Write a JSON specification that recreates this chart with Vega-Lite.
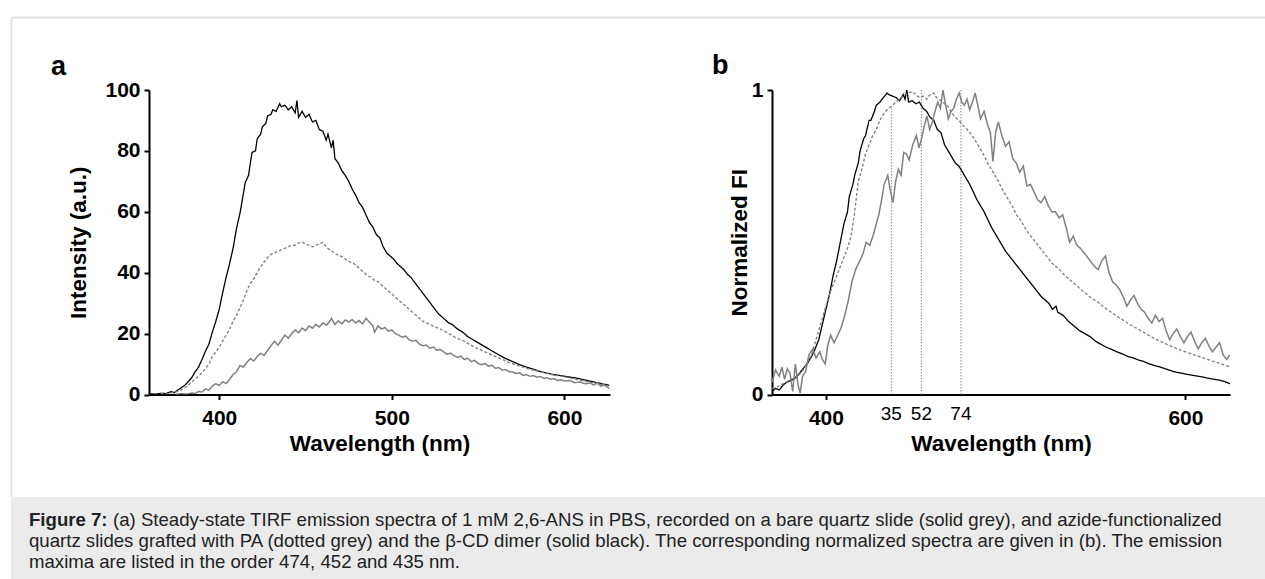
{
  "$schema": "https://vega.github.io/schema/vega-lite/v6.json",
  "background": "white",
  "padding": {"left": 8, "top": 14, "right": 0, "bottom": 0},
  "config": {
    "font": "Liberation Sans",
    "view": {"stroke": null},
    "axis": {
      "grid": false,
      "domainColor": "#000000", "domainWidth": 2,
      "tickColor": "#000000", "tickWidth": 2, "tickSize": 5,
      "labelFont": "Liberation Sans", "labelFontSize": 21, "labelFontWeight": "bold", "labelColor": "#000000", "labelPadding": 4,
      "labelFlush": false, "labelOverlap": false,
      "titleFont": "Liberation Sans", "titleFontSize": 22.5, "titleFontWeight": "bold", "titleColor": "#000000"
    },
    "title": {"font": "Liberation Sans", "fontSize": 27, "fontWeight": "bold", "color": "#000000", "anchor": "start", "frame": "group"}
  },
  "datasets": {
    "a": [
      {"s":"dimer","wl":360,"v":0.2},{"s":"dimer","wl":363,"v":0.1},{"s":"dimer","wl":366,"v":0.4},{"s":"dimer","wl":369,"v":0.3},{"s":"dimer","wl":372,"v":0.9},{"s":"dimer","wl":374,"v":0.6},{"s":"dimer","wl":376,"v":1.5},{"s":"dimer","wl":378,"v":2.2},{"s":"dimer","wl":380,"v":3.0},{"s":"dimer","wl":382,"v":4.2},{"s":"dimer","wl":384,"v":5.5},{"s":"dimer","wl":386,"v":7.4},{"s":"dimer","wl":388,"v":9.0},{"s":"dimer","wl":390,"v":11.5},{"s":"dimer","wl":392,"v":14.2},{"s":"dimer","wl":394,"v":16.5},{"s":"dimer","wl":396,"v":20.5},{"s":"dimer","wl":398,"v":24.0},{"s":"dimer","wl":400,"v":28.0},{"s":"dimer","wl":402,"v":33.5},{"s":"dimer","wl":404,"v":38.5},{"s":"dimer","wl":406,"v":43.0},{"s":"dimer","wl":408,"v":48.0},{"s":"dimer","wl":410,"v":54.5},{"s":"dimer","wl":412,"v":59.5},{"s":"dimer","wl":414,"v":66.0},{"s":"dimer","wl":415,"v":69.5},{"s":"dimer","wl":417,"v":72.0},{"s":"dimer","wl":418,"v":76.0},{"s":"dimer","wl":419,"v":79.5},{"s":"dimer","wl":421,"v":80.0},{"s":"dimer","wl":422,"v":84.0},{"s":"dimer","wl":424,"v":85.5},{"s":"dimer","wl":425,"v":88.0},{"s":"dimer","wl":427,"v":89.0},{"s":"dimer","wl":428,"v":91.5},{"s":"dimer","wl":430,"v":92.0},{"s":"dimer","wl":431,"v":93.5},{"s":"dimer","wl":433,"v":93.0},{"s":"dimer","wl":435,"v":95.5},{"s":"dimer","wl":436,"v":94.5},{"s":"dimer","wl":438,"v":95.0},{"s":"dimer","wl":440,"v":93.5},{"s":"dimer","wl":442,"v":94.5},{"s":"dimer","wl":444,"v":92.5},{"s":"dimer","wl":445,"v":96.5},{"s":"dimer","wl":446,"v":91.0},{"s":"dimer","wl":448,"v":93.0},{"s":"dimer","wl":450,"v":91.0},{"s":"dimer","wl":452,"v":92.0},{"s":"dimer","wl":454,"v":89.5},{"s":"dimer","wl":456,"v":90.0},{"s":"dimer","wl":458,"v":87.0},{"s":"dimer","wl":460,"v":86.5},{"s":"dimer","wl":462,"v":83.5},{"s":"dimer","wl":463,"v":85.5},{"s":"dimer","wl":465,"v":81.0},{"s":"dimer","wl":466,"v":83.5},{"s":"dimer","wl":467,"v":77.5},{"s":"dimer","wl":469,"v":76.0},{"s":"dimer","wl":471,"v":73.5},{"s":"dimer","wl":473,"v":72.0},{"s":"dimer","wl":475,"v":70.0},{"s":"dimer","wl":477,"v":67.5},{"s":"dimer","wl":479,"v":65.5},{"s":"dimer","wl":481,"v":63.0},{"s":"dimer","wl":483,"v":61.5},{"s":"dimer","wl":485,"v":59.0},{"s":"dimer","wl":487,"v":56.5},{"s":"dimer","wl":489,"v":55.0},{"s":"dimer","wl":491,"v":52.5},{"s":"dimer","wl":493,"v":51.5},{"s":"dimer","wl":495,"v":48.5},{"s":"dimer","wl":497,"v":46.5},{"s":"dimer","wl":499,"v":45.5},{"s":"dimer","wl":501,"v":44.5},{"s":"dimer","wl":503,"v":43.0},{"s":"dimer","wl":505,"v":42.0},{"s":"dimer","wl":507,"v":41.0},{"s":"dimer","wl":509,"v":39.5},{"s":"dimer","wl":511,"v":38.5},{"s":"dimer","wl":513,"v":37.0},{"s":"dimer","wl":515,"v":35.5},{"s":"dimer","wl":517,"v":34.0},{"s":"dimer","wl":519,"v":32.5},{"s":"dimer","wl":521,"v":31.0},{"s":"dimer","wl":523,"v":29.5},{"s":"dimer","wl":525,"v":28.0},{"s":"dimer","wl":527,"v":26.5},{"s":"dimer","wl":529,"v":25.5},{"s":"dimer","wl":531,"v":24.5},{"s":"dimer","wl":533,"v":23.5},{"s":"dimer","wl":535,"v":23.0},{"s":"dimer","wl":538,"v":21.5},{"s":"dimer","wl":541,"v":20.5},{"s":"dimer","wl":544,"v":19.0},{"s":"dimer","wl":547,"v":18.0},{"s":"dimer","wl":550,"v":17.0},{"s":"dimer","wl":553,"v":16.0},{"s":"dimer","wl":556,"v":15.0},{"s":"dimer","wl":559,"v":14.0},{"s":"dimer","wl":562,"v":13.0},{"s":"dimer","wl":566,"v":11.8},{"s":"dimer","wl":570,"v":10.8},{"s":"dimer","wl":574,"v":9.8},{"s":"dimer","wl":578,"v":9.0},{"s":"dimer","wl":582,"v":8.3},{"s":"dimer","wl":586,"v":7.5},{"s":"dimer","wl":590,"v":7.0},{"s":"dimer","wl":594,"v":6.5},{"s":"dimer","wl":598,"v":6.2},{"s":"dimer","wl":602,"v":5.8},{"s":"dimer","wl":606,"v":5.5},{"s":"dimer","wl":610,"v":5.0},{"s":"dimer","wl":614,"v":4.5},{"s":"dimer","wl":618,"v":4.0},{"s":"dimer","wl":622,"v":3.5},{"s":"dimer","wl":626,"v":3.0},

      {"s":"PA","wl":366,"v":0.2},{"s":"PA","wl":370,"v":0.3},{"s":"PA","wl":373,"v":0.6},{"s":"PA","wl":376,"v":1.0},{"s":"PA","wl":379,"v":1.8},{"s":"PA","wl":382,"v":3.0},{"s":"PA","wl":385,"v":4.5},{"s":"PA","wl":388,"v":6.0},{"s":"PA","wl":391,"v":7.8},{"s":"PA","wl":394,"v":10.0},{"s":"PA","wl":396,"v":12.5},{"s":"PA","wl":398,"v":14.0},{"s":"PA","wl":400,"v":15.5},{"s":"PA","wl":402,"v":17.5},{"s":"PA","wl":404,"v":19.5},{"s":"PA","wl":406,"v":21.5},{"s":"PA","wl":408,"v":24.0},{"s":"PA","wl":410,"v":26.0},{"s":"PA","wl":412,"v":28.5},{"s":"PA","wl":414,"v":31.0},{"s":"PA","wl":416,"v":34.0},{"s":"PA","wl":418,"v":36.5},{"s":"PA","wl":420,"v":38.0},{"s":"PA","wl":422,"v":40.0},{"s":"PA","wl":424,"v":42.0},{"s":"PA","wl":426,"v":43.5},{"s":"PA","wl":428,"v":45.0},{"s":"PA","wl":430,"v":46.0},{"s":"PA","wl":432,"v":46.5},{"s":"PA","wl":434,"v":47.0},{"s":"PA","wl":436,"v":47.5},{"s":"PA","wl":438,"v":48.0},{"s":"PA","wl":440,"v":48.5},{"s":"PA","wl":442,"v":49.0},{"s":"PA","wl":444,"v":49.0},{"s":"PA","wl":446,"v":49.8},{"s":"PA","wl":448,"v":50.0},{"s":"PA","wl":450,"v":49.5},{"s":"PA","wl":452,"v":49.0},{"s":"PA","wl":454,"v":48.5},{"s":"PA","wl":456,"v":49.0},{"s":"PA","wl":458,"v":49.5},{"s":"PA","wl":460,"v":50.0},{"s":"PA","wl":462,"v":48.5},{"s":"PA","wl":464,"v":47.5},{"s":"PA","wl":466,"v":46.8},{"s":"PA","wl":468,"v":46.0},{"s":"PA","wl":470,"v":45.5},{"s":"PA","wl":472,"v":45.0},{"s":"PA","wl":474,"v":44.0},{"s":"PA","wl":476,"v":43.5},{"s":"PA","wl":478,"v":43.0},{"s":"PA","wl":480,"v":42.0},{"s":"PA","wl":482,"v":41.0},{"s":"PA","wl":484,"v":40.0},{"s":"PA","wl":486,"v":39.0},{"s":"PA","wl":488,"v":38.5},{"s":"PA","wl":490,"v":37.5},{"s":"PA","wl":492,"v":37.0},{"s":"PA","wl":494,"v":36.0},{"s":"PA","wl":496,"v":35.0},{"s":"PA","wl":498,"v":34.0},{"s":"PA","wl":500,"v":33.0},{"s":"PA","wl":502,"v":32.0},{"s":"PA","wl":504,"v":31.0},{"s":"PA","wl":506,"v":30.0},{"s":"PA","wl":508,"v":29.0},{"s":"PA","wl":510,"v":28.0},{"s":"PA","wl":512,"v":27.0},{"s":"PA","wl":514,"v":26.0},{"s":"PA","wl":516,"v":25.0},{"s":"PA","wl":518,"v":24.0},{"s":"PA","wl":520,"v":23.5},{"s":"PA","wl":522,"v":23.0},{"s":"PA","wl":524,"v":22.5},{"s":"PA","wl":526,"v":22.0},{"s":"PA","wl":528,"v":21.5},{"s":"PA","wl":530,"v":21.0},{"s":"PA","wl":533,"v":20.0},{"s":"PA","wl":536,"v":19.0},{"s":"PA","wl":539,"v":18.2},{"s":"PA","wl":542,"v":17.5},{"s":"PA","wl":545,"v":16.5},{"s":"PA","wl":548,"v":15.5},{"s":"PA","wl":551,"v":14.8},{"s":"PA","wl":554,"v":14.0},{"s":"PA","wl":557,"v":13.2},{"s":"PA","wl":560,"v":12.5},{"s":"PA","wl":564,"v":11.5},{"s":"PA","wl":568,"v":10.5},{"s":"PA","wl":572,"v":9.7},{"s":"PA","wl":576,"v":9.0},{"s":"PA","wl":580,"v":8.3},{"s":"PA","wl":585,"v":7.6},{"s":"PA","wl":590,"v":6.9},{"s":"PA","wl":595,"v":6.3},{"s":"PA","wl":600,"v":5.8},{"s":"PA","wl":605,"v":5.2},{"s":"PA","wl":610,"v":4.6},{"s":"PA","wl":615,"v":4.0},{"s":"PA","wl":620,"v":3.4},{"s":"PA","wl":626,"v":2.6},

      {"s":"bare","wl":375,"v":0.0},{"s":"bare","wl":378,"v":0.3},{"s":"bare","wl":381,"v":0.1},{"s":"bare","wl":384,"v":0.5},{"s":"bare","wl":386,"v":0.3},{"s":"bare","wl":388,"v":1.0},{"s":"bare","wl":390,"v":0.8},{"s":"bare","wl":392,"v":1.8},{"s":"bare","wl":394,"v":1.4},{"s":"bare","wl":396,"v":2.8},{"s":"bare","wl":398,"v":3.5},{"s":"bare","wl":400,"v":3.0},{"s":"bare","wl":402,"v":4.2},{"s":"bare","wl":404,"v":3.6},{"s":"bare","wl":406,"v":5.0},{"s":"bare","wl":408,"v":6.5},{"s":"bare","wl":410,"v":7.5},{"s":"bare","wl":412,"v":9.5},{"s":"bare","wl":414,"v":9.0},{"s":"bare","wl":416,"v":10.5},{"s":"bare","wl":418,"v":11.8},{"s":"bare","wl":420,"v":11.0},{"s":"bare","wl":422,"v":12.5},{"s":"bare","wl":424,"v":13.5},{"s":"bare","wl":426,"v":12.8},{"s":"bare","wl":428,"v":14.5},{"s":"bare","wl":430,"v":16.0},{"s":"bare","wl":432,"v":17.5},{"s":"bare","wl":434,"v":16.2},{"s":"bare","wl":436,"v":17.8},{"s":"bare","wl":438,"v":19.5},{"s":"bare","wl":440,"v":18.5},{"s":"bare","wl":442,"v":20.0},{"s":"bare","wl":444,"v":21.2},{"s":"bare","wl":446,"v":20.3},{"s":"bare","wl":448,"v":21.8},{"s":"bare","wl":450,"v":21.0},{"s":"bare","wl":452,"v":22.5},{"s":"bare","wl":454,"v":21.8},{"s":"bare","wl":456,"v":23.0},{"s":"bare","wl":458,"v":22.2},{"s":"bare","wl":460,"v":23.5},{"s":"bare","wl":462,"v":22.8},{"s":"bare","wl":464,"v":24.0},{"s":"bare","wl":465,"v":25.0},{"s":"bare","wl":467,"v":23.0},{"s":"bare","wl":469,"v":24.2},{"s":"bare","wl":471,"v":23.2},{"s":"bare","wl":473,"v":24.5},{"s":"bare","wl":475,"v":23.8},{"s":"bare","wl":477,"v":24.6},{"s":"bare","wl":479,"v":23.5},{"s":"bare","wl":481,"v":24.3},{"s":"bare","wl":483,"v":23.2},{"s":"bare","wl":485,"v":25.0},{"s":"bare","wl":487,"v":23.8},{"s":"bare","wl":489,"v":22.5},{"s":"bare","wl":490,"v":20.5},{"s":"bare","wl":492,"v":22.5},{"s":"bare","wl":494,"v":21.5},{"s":"bare","wl":496,"v":22.0},{"s":"bare","wl":498,"v":20.8},{"s":"bare","wl":500,"v":21.2},{"s":"bare","wl":502,"v":20.0},{"s":"bare","wl":504,"v":19.5},{"s":"bare","wl":506,"v":18.8},{"s":"bare","wl":508,"v":19.2},{"s":"bare","wl":510,"v":18.0},{"s":"bare","wl":512,"v":17.5},{"s":"bare","wl":514,"v":17.8},{"s":"bare","wl":516,"v":16.5},{"s":"bare","wl":518,"v":16.0},{"s":"bare","wl":520,"v":16.2},{"s":"bare","wl":522,"v":15.2},{"s":"bare","wl":524,"v":15.6},{"s":"bare","wl":526,"v":14.5},{"s":"bare","wl":528,"v":14.8},{"s":"bare","wl":530,"v":14.0},{"s":"bare","wl":532,"v":13.2},{"s":"bare","wl":534,"v":13.6},{"s":"bare","wl":536,"v":12.8},{"s":"bare","wl":538,"v":12.2},{"s":"bare","wl":540,"v":12.6},{"s":"bare","wl":542,"v":11.5},{"s":"bare","wl":544,"v":11.9},{"s":"bare","wl":546,"v":10.8},{"s":"bare","wl":548,"v":11.2},{"s":"bare","wl":550,"v":10.2},{"s":"bare","wl":552,"v":9.8},{"s":"bare","wl":554,"v":10.2},{"s":"bare","wl":556,"v":9.3},{"s":"bare","wl":558,"v":9.6},{"s":"bare","wl":560,"v":8.6},{"s":"bare","wl":562,"v":8.8},{"s":"bare","wl":564,"v":8.0},{"s":"bare","wl":566,"v":8.2},{"s":"bare","wl":568,"v":7.5},{"s":"bare","wl":570,"v":7.4},{"s":"bare","wl":572,"v":6.9},{"s":"bare","wl":574,"v":7.1},{"s":"bare","wl":576,"v":6.3},{"s":"bare","wl":578,"v":6.5},{"s":"bare","wl":580,"v":6.0},{"s":"bare","wl":582,"v":6.2},{"s":"bare","wl":584,"v":5.7},{"s":"bare","wl":586,"v":5.9},{"s":"bare","wl":588,"v":5.3},{"s":"bare","wl":590,"v":5.5},{"s":"bare","wl":592,"v":5.0},{"s":"bare","wl":594,"v":5.2},{"s":"bare","wl":596,"v":4.6},{"s":"bare","wl":598,"v":4.9},{"s":"bare","wl":600,"v":4.4},{"s":"bare","wl":603,"v":4.6},{"s":"bare","wl":606,"v":3.9},{"s":"bare","wl":609,"v":4.1},{"s":"bare","wl":612,"v":3.5},{"s":"bare","wl":615,"v":3.8},{"s":"bare","wl":617,"v":3.1},{"s":"bare","wl":619,"v":3.9},{"s":"bare","wl":621,"v":2.7},{"s":"bare","wl":623,"v":3.2},{"s":"bare","wl":626,"v":2.0}
    ],
    "b": [
      {"s":"dimer","wl":370,"v":0.01},{"s":"dimer","wl":372,"v":0.02},{"s":"dimer","wl":374,"v":0.015},{"s":"dimer","wl":376,"v":0.03},{"s":"dimer","wl":378,"v":0.04},{"s":"dimer","wl":380,"v":0.045},{"s":"dimer","wl":382,"v":0.05},{"s":"dimer","wl":384,"v":0.06},{"s":"dimer","wl":386,"v":0.075},{"s":"dimer","wl":388,"v":0.09},{"s":"dimer","wl":390,"v":0.105},{"s":"dimer","wl":392,"v":0.125},{"s":"dimer","wl":394,"v":0.15},{"s":"dimer","wl":396,"v":0.18},{"s":"dimer","wl":398,"v":0.23},{"s":"dimer","wl":400,"v":0.28},{"s":"dimer","wl":402,"v":0.33},{"s":"dimer","wl":404,"v":0.39},{"s":"dimer","wl":406,"v":0.44},{"s":"dimer","wl":408,"v":0.5},{"s":"dimer","wl":410,"v":0.56},{"s":"dimer","wl":412,"v":0.6},{"s":"dimer","wl":413,"v":0.65},{"s":"dimer","wl":415,"v":0.69},{"s":"dimer","wl":416,"v":0.72},{"s":"dimer","wl":418,"v":0.76},{"s":"dimer","wl":419,"v":0.8},{"s":"dimer","wl":421,"v":0.84},{"s":"dimer","wl":422,"v":0.85},{"s":"dimer","wl":424,"v":0.9},{"s":"dimer","wl":425,"v":0.9},{"s":"dimer","wl":427,"v":0.93},{"s":"dimer","wl":428,"v":0.95},{"s":"dimer","wl":430,"v":0.96},{"s":"dimer","wl":432,"v":0.975},{"s":"dimer","wl":434,"v":0.99},{"s":"dimer","wl":435,"v":0.985},{"s":"dimer","wl":437,"v":0.98},{"s":"dimer","wl":439,"v":0.975},{"s":"dimer","wl":441,"v":0.965},{"s":"dimer","wl":443,"v":0.985},{"s":"dimer","wl":444,"v":0.97},{"s":"dimer","wl":445,"v":1.0},{"s":"dimer","wl":446,"v":0.96},{"s":"dimer","wl":448,"v":0.965},{"s":"dimer","wl":450,"v":0.955},{"s":"dimer","wl":452,"v":0.96},{"s":"dimer","wl":454,"v":0.94},{"s":"dimer","wl":456,"v":0.93},{"s":"dimer","wl":458,"v":0.91},{"s":"dimer","wl":460,"v":0.9},{"s":"dimer","wl":462,"v":0.87},{"s":"dimer","wl":464,"v":0.86},{"s":"dimer","wl":466,"v":0.82},{"s":"dimer","wl":468,"v":0.8},{"s":"dimer","wl":470,"v":0.78},{"s":"dimer","wl":472,"v":0.76},{"s":"dimer","wl":474,"v":0.75},{"s":"dimer","wl":476,"v":0.73},{"s":"dimer","wl":478,"v":0.71},{"s":"dimer","wl":480,"v":0.69},{"s":"dimer","wl":482,"v":0.665},{"s":"dimer","wl":484,"v":0.64},{"s":"dimer","wl":486,"v":0.62},{"s":"dimer","wl":488,"v":0.6},{"s":"dimer","wl":490,"v":0.575},{"s":"dimer","wl":492,"v":0.55},{"s":"dimer","wl":494,"v":0.53},{"s":"dimer","wl":496,"v":0.51},{"s":"dimer","wl":498,"v":0.49},{"s":"dimer","wl":500,"v":0.47},{"s":"dimer","wl":502,"v":0.455},{"s":"dimer","wl":504,"v":0.44},{"s":"dimer","wl":506,"v":0.425},{"s":"dimer","wl":508,"v":0.41},{"s":"dimer","wl":510,"v":0.395},{"s":"dimer","wl":512,"v":0.38},{"s":"dimer","wl":514,"v":0.365},{"s":"dimer","wl":516,"v":0.35},{"s":"dimer","wl":518,"v":0.335},{"s":"dimer","wl":520,"v":0.32},{"s":"dimer","wl":522,"v":0.31},{"s":"dimer","wl":524,"v":0.3},{"s":"dimer","wl":526,"v":0.28},{"s":"dimer","wl":528,"v":0.29},{"s":"dimer","wl":529,"v":0.27},{"s":"dimer","wl":532,"v":0.26},{"s":"dimer","wl":535,"v":0.24},{"s":"dimer","wl":538,"v":0.225},{"s":"dimer","wl":541,"v":0.21},{"s":"dimer","wl":544,"v":0.2},{"s":"dimer","wl":547,"v":0.19},{"s":"dimer","wl":550,"v":0.175},{"s":"dimer","wl":553,"v":0.165},{"s":"dimer","wl":556,"v":0.155},{"s":"dimer","wl":559,"v":0.148},{"s":"dimer","wl":562,"v":0.14},{"s":"dimer","wl":565,"v":0.133},{"s":"dimer","wl":568,"v":0.125},{"s":"dimer","wl":571,"v":0.12},{"s":"dimer","wl":574,"v":0.113},{"s":"dimer","wl":577,"v":0.108},{"s":"dimer","wl":580,"v":0.1},{"s":"dimer","wl":583,"v":0.095},{"s":"dimer","wl":586,"v":0.09},{"s":"dimer","wl":589,"v":0.084},{"s":"dimer","wl":592,"v":0.078},{"s":"dimer","wl":595,"v":0.073},{"s":"dimer","wl":598,"v":0.07},{"s":"dimer","wl":601,"v":0.066},{"s":"dimer","wl":604,"v":0.063},{"s":"dimer","wl":607,"v":0.06},{"s":"dimer","wl":610,"v":0.057},{"s":"dimer","wl":613,"v":0.053},{"s":"dimer","wl":616,"v":0.05},{"s":"dimer","wl":619,"v":0.047},{"s":"dimer","wl":622,"v":0.042},{"s":"dimer","wl":625,"v":0.035},

      {"s":"PA","wl":370,"v":0.02},{"s":"PA","wl":373,"v":0.025},{"s":"PA","wl":376,"v":0.035},{"s":"PA","wl":379,"v":0.045},{"s":"PA","wl":382,"v":0.055},{"s":"PA","wl":385,"v":0.065},{"s":"PA","wl":388,"v":0.085},{"s":"PA","wl":390,"v":0.11},{"s":"PA","wl":392,"v":0.13},{"s":"PA","wl":394,"v":0.17},{"s":"PA","wl":396,"v":0.21},{"s":"PA","wl":398,"v":0.25},{"s":"PA","wl":400,"v":0.29},{"s":"PA","wl":402,"v":0.33},{"s":"PA","wl":404,"v":0.36},{"s":"PA","wl":406,"v":0.39},{"s":"PA","wl":408,"v":0.42},{"s":"PA","wl":410,"v":0.45},{"s":"PA","wl":412,"v":0.48},{"s":"PA","wl":414,"v":0.52},{"s":"PA","wl":416,"v":0.6},{"s":"PA","wl":418,"v":0.7},{"s":"PA","wl":420,"v":0.74},{"s":"PA","wl":422,"v":0.79},{"s":"PA","wl":424,"v":0.82},{"s":"PA","wl":426,"v":0.85},{"s":"PA","wl":428,"v":0.87},{"s":"PA","wl":430,"v":0.9},{"s":"PA","wl":432,"v":0.92},{"s":"PA","wl":434,"v":0.935},{"s":"PA","wl":436,"v":0.945},{"s":"PA","wl":438,"v":0.955},{"s":"PA","wl":440,"v":0.965},{"s":"PA","wl":442,"v":0.975},{"s":"PA","wl":444,"v":0.985},{"s":"PA","wl":446,"v":0.99},{"s":"PA","wl":448,"v":0.995},{"s":"PA","wl":450,"v":0.985},{"s":"PA","wl":452,"v":0.975},{"s":"PA","wl":454,"v":0.98},{"s":"PA","wl":456,"v":0.97},{"s":"PA","wl":458,"v":0.985},{"s":"PA","wl":460,"v":0.99},{"s":"PA","wl":462,"v":0.97},{"s":"PA","wl":464,"v":0.965},{"s":"PA","wl":466,"v":0.955},{"s":"PA","wl":468,"v":0.945},{"s":"PA","wl":470,"v":0.925},{"s":"PA","wl":472,"v":0.91},{"s":"PA","wl":474,"v":0.9},{"s":"PA","wl":476,"v":0.885},{"s":"PA","wl":478,"v":0.875},{"s":"PA","wl":480,"v":0.86},{"s":"PA","wl":482,"v":0.845},{"s":"PA","wl":484,"v":0.825},{"s":"PA","wl":486,"v":0.805},{"s":"PA","wl":488,"v":0.785},{"s":"PA","wl":490,"v":0.76},{"s":"PA","wl":492,"v":0.74},{"s":"PA","wl":494,"v":0.72},{"s":"PA","wl":496,"v":0.7},{"s":"PA","wl":498,"v":0.675},{"s":"PA","wl":500,"v":0.655},{"s":"PA","wl":502,"v":0.635},{"s":"PA","wl":504,"v":0.615},{"s":"PA","wl":506,"v":0.59},{"s":"PA","wl":508,"v":0.575},{"s":"PA","wl":510,"v":0.555},{"s":"PA","wl":512,"v":0.535},{"s":"PA","wl":514,"v":0.52},{"s":"PA","wl":516,"v":0.505},{"s":"PA","wl":518,"v":0.49},{"s":"PA","wl":520,"v":0.475},{"s":"PA","wl":522,"v":0.46},{"s":"PA","wl":524,"v":0.445},{"s":"PA","wl":526,"v":0.43},{"s":"PA","wl":528,"v":0.42},{"s":"PA","wl":530,"v":0.41},{"s":"PA","wl":533,"v":0.39},{"s":"PA","wl":536,"v":0.375},{"s":"PA","wl":539,"v":0.36},{"s":"PA","wl":542,"v":0.345},{"s":"PA","wl":545,"v":0.33},{"s":"PA","wl":548,"v":0.315},{"s":"PA","wl":551,"v":0.305},{"s":"PA","wl":554,"v":0.29},{"s":"PA","wl":557,"v":0.277},{"s":"PA","wl":560,"v":0.265},{"s":"PA","wl":563,"v":0.253},{"s":"PA","wl":566,"v":0.242},{"s":"PA","wl":569,"v":0.23},{"s":"PA","wl":572,"v":0.22},{"s":"PA","wl":575,"v":0.21},{"s":"PA","wl":578,"v":0.2},{"s":"PA","wl":581,"v":0.19},{"s":"PA","wl":584,"v":0.18},{"s":"PA","wl":587,"v":0.172},{"s":"PA","wl":590,"v":0.164},{"s":"PA","wl":593,"v":0.156},{"s":"PA","wl":596,"v":0.149},{"s":"PA","wl":599,"v":0.142},{"s":"PA","wl":602,"v":0.136},{"s":"PA","wl":605,"v":0.13},{"s":"PA","wl":608,"v":0.124},{"s":"PA","wl":611,"v":0.118},{"s":"PA","wl":614,"v":0.112},{"s":"PA","wl":617,"v":0.106},{"s":"PA","wl":620,"v":0.1},{"s":"PA","wl":623,"v":0.094},{"s":"PA","wl":625,"v":0.09},

      {"s":"bare","wl":370,"v":0.04},{"s":"bare","wl":372,"v":0.08},{"s":"bare","wl":374,"v":0.06},{"s":"bare","wl":375.5,"v":0.09},{"s":"bare","wl":377,"v":0.05},{"s":"bare","wl":378.5,"v":0.085},{"s":"bare","wl":380,"v":0.07},{"s":"bare","wl":381.5,"v":0.01},{"s":"bare","wl":383,"v":0.1},{"s":"bare","wl":384.5,"v":0.03},{"s":"bare","wl":385.7,"v":0.005},{"s":"bare","wl":387,"v":0.06},{"s":"bare","wl":388.7,"v":0.075},{"s":"bare","wl":390.5,"v":0.13},{"s":"bare","wl":392.7,"v":0.15},{"s":"bare","wl":394.5,"v":0.12},{"s":"bare","wl":396.6,"v":0.14},{"s":"bare","wl":398,"v":0.115},{"s":"bare","wl":399.6,"v":0.1},{"s":"bare","wl":401,"v":0.16},{"s":"bare","wl":402.6,"v":0.195},{"s":"bare","wl":404.5,"v":0.17},{"s":"bare","wl":406.6,"v":0.195},{"s":"bare","wl":408.5,"v":0.22},{"s":"bare","wl":410.5,"v":0.26},{"s":"bare","wl":412.5,"v":0.31},{"s":"bare","wl":414.5,"v":0.37},{"s":"bare","wl":416.5,"v":0.41},{"s":"bare","wl":418.5,"v":0.435},{"s":"bare","wl":420.5,"v":0.46},{"s":"bare","wl":422.4,"v":0.5},{"s":"bare","wl":424.4,"v":0.49},{"s":"bare","wl":426.4,"v":0.525},{"s":"bare","wl":428,"v":0.56},{"s":"bare","wl":429.4,"v":0.59},{"s":"bare","wl":431,"v":0.64},{"s":"bare","wl":432.4,"v":0.69},{"s":"bare","wl":434.4,"v":0.72},{"s":"bare","wl":435.8,"v":0.67},{"s":"bare","wl":437.3,"v":0.63},{"s":"bare","wl":438.8,"v":0.7},{"s":"bare","wl":440.3,"v":0.74},{"s":"bare","wl":441.8,"v":0.72},{"s":"bare","wl":443.3,"v":0.795},{"s":"bare","wl":444.8,"v":0.79},{"s":"bare","wl":446.3,"v":0.77},{"s":"bare","wl":448.3,"v":0.82},{"s":"bare","wl":450.3,"v":0.85},{"s":"bare","wl":451.8,"v":0.81},{"s":"bare","wl":453.2,"v":0.84},{"s":"bare","wl":454.7,"v":0.88},{"s":"bare","wl":456.2,"v":0.915},{"s":"bare","wl":457.7,"v":0.87},{"s":"bare","wl":459.2,"v":0.895},{"s":"bare","wl":460.7,"v":0.93},{"s":"bare","wl":462.2,"v":0.96},{"s":"bare","wl":463.7,"v":0.94},{"s":"bare","wl":465.1,"v":1.0},{"s":"bare","wl":466.6,"v":0.95},{"s":"bare","wl":468.1,"v":0.905},{"s":"bare","wl":469.6,"v":0.93},{"s":"bare","wl":471.1,"v":0.94},{"s":"bare","wl":472.6,"v":0.97},{"s":"bare","wl":474.1,"v":0.99},{"s":"bare","wl":475.6,"v":0.96},{"s":"bare","wl":477,"v":0.95},{"s":"bare","wl":478.5,"v":0.97},{"s":"bare","wl":480,"v":0.935},{"s":"bare","wl":481.5,"v":0.96},{"s":"bare","wl":483,"v":0.99},{"s":"bare","wl":484.5,"v":0.95},{"s":"bare","wl":486,"v":0.905},{"s":"bare","wl":488,"v":0.93},{"s":"bare","wl":490,"v":0.885},{"s":"bare","wl":491.5,"v":0.86},{"s":"bare","wl":492.9,"v":0.765},{"s":"bare","wl":494.4,"v":0.86},{"s":"bare","wl":495.9,"v":0.895},{"s":"bare","wl":497.9,"v":0.85},{"s":"bare","wl":499.9,"v":0.815},{"s":"bare","wl":501.9,"v":0.83},{"s":"bare","wl":503.9,"v":0.775},{"s":"bare","wl":505.9,"v":0.76},{"s":"bare","wl":507.8,"v":0.73},{"s":"bare","wl":509.8,"v":0.75},{"s":"bare","wl":511.8,"v":0.685},{"s":"bare","wl":513.8,"v":0.69},{"s":"bare","wl":515.8,"v":0.665},{"s":"bare","wl":517.7,"v":0.64},{"s":"bare","wl":519.7,"v":0.63},{"s":"bare","wl":521.7,"v":0.65},{"s":"bare","wl":523.7,"v":0.62},{"s":"bare","wl":525.7,"v":0.6},{"s":"bare","wl":527.7,"v":0.6},{"s":"bare","wl":529.7,"v":0.58},{"s":"bare","wl":531.7,"v":0.59},{"s":"bare","wl":533.6,"v":0.55},{"s":"bare","wl":535.6,"v":0.5},{"s":"bare","wl":537.6,"v":0.52},{"s":"bare","wl":539.6,"v":0.49},{"s":"bare","wl":541.6,"v":0.48},{"s":"bare","wl":543.6,"v":0.465},{"s":"bare","wl":545.6,"v":0.45},{"s":"bare","wl":547.5,"v":0.435},{"s":"bare","wl":549.5,"v":0.42},{"s":"bare","wl":551.5,"v":0.41},{"s":"bare","wl":553.5,"v":0.44},{"s":"bare","wl":555.5,"v":0.455},{"s":"bare","wl":557.5,"v":0.4},{"s":"bare","wl":559.5,"v":0.37},{"s":"bare","wl":561.4,"v":0.36},{"s":"bare","wl":563.4,"v":0.345},{"s":"bare","wl":565.4,"v":0.32},{"s":"bare","wl":567.4,"v":0.29},{"s":"bare","wl":569.4,"v":0.31},{"s":"bare","wl":571.4,"v":0.325},{"s":"bare","wl":573.3,"v":0.3},{"s":"bare","wl":575.3,"v":0.28},{"s":"bare","wl":577.3,"v":0.27},{"s":"bare","wl":579.3,"v":0.25},{"s":"bare","wl":581.3,"v":0.235},{"s":"bare","wl":583.3,"v":0.26},{"s":"bare","wl":585.3,"v":0.24},{"s":"bare","wl":587.3,"v":0.25},{"s":"bare","wl":589.2,"v":0.21},{"s":"bare","wl":591.2,"v":0.18},{"s":"bare","wl":593.2,"v":0.2},{"s":"bare","wl":595.2,"v":0.215},{"s":"bare","wl":597.2,"v":0.19},{"s":"bare","wl":599.2,"v":0.17},{"s":"bare","wl":601.1,"v":0.19},{"s":"bare","wl":603.1,"v":0.205},{"s":"bare","wl":605.1,"v":0.175},{"s":"bare","wl":607.1,"v":0.15},{"s":"bare","wl":609.1,"v":0.17},{"s":"bare","wl":611.1,"v":0.185},{"s":"bare","wl":613,"v":0.16},{"s":"bare","wl":615,"v":0.14},{"s":"bare","wl":617,"v":0.155},{"s":"bare","wl":619,"v":0.17},{"s":"bare","wl":621,"v":0.13},{"s":"bare","wl":623,"v":0.115},{"s":"bare","wl":624.6,"v":0.13}
    ],
    "maxima": [
      {"wl": 436.4, "base": 0, "top": 0.94, "lab": "35"},
      {"wl": 453.1, "base": 0, "top": 1.0, "lab": "52"},
      {"wl": 475.1, "base": 0, "top": 1.0, "lab": "74"}
    ],
    "caption": [
      {"line": 1, "part": "head", "t": "Figure 7:"},
      {"line": 1, "part": "rest1", "t": "(a) Steady-state TIRF emission spectra of 1 mM 2,6-ANS in PBS, recorded on a bare quartz slide (solid grey), and azide-functionalized"},
      {"line": 2, "part": "body", "t": "quartz slides grafted with PA (dotted grey) and the β-CD dimer (solid black). The corresponding normalized spectra are given in (b). The emission"},
      {"line": 3, "part": "body", "t": "maxima are listed in the order 474, 452 and 435 nm."}
    ],
    "blank": [{"k": 0}]
  },
  "spacing": 0,
  "bounds": "flush",
  "vconcat": [
    {
      "spacing": 137,
      "bounds": "flush",
      "hconcat": [
        {
          "width": 1, "height": 1,
          "data": {"name": "blank"},
          "mark": {"type": "point", "opacity": 0},
          "encoding": {"x": {"field": "k", "type": "quantitative", "axis": null}}
        },
        {
          "spacing": 0,
          "bounds": "flush",
          "vconcat": [
            {
              "width": 1, "height": 73,
              "data": {"name": "blank"},
              "mark": {"type": "point", "opacity": 0},
              "encoding": {"x": {"field": "k", "type": "quantitative", "axis": null}}
            },
            {
              "spacing": 162,
              "bounds": "flush",
              "hconcat": [
                {
                  "width": 461, "height": 304.5,
                  "title": {"text": "a", "dx": -98, "dy": 27, "offset": 4, "baseline": "alphabetic"},
                  "data": {"name": "a"},
                  "mark": {"type": "line", "clip": true},
                  "encoding": {
                    "x": {"field": "wl", "type": "quantitative", "scale": {"domain": [359.3, 626.4], "nice": false, "zero": false},
                          "axis": {"values": [400, 500, 600], "title": "Wavelength (nm)", "labelPadding": 8, "titlePadding": 4}},
                    "y": {"field": "v", "type": "quantitative", "scale": {"domain": [0, 100], "nice": false},
                          "axis": {"values": [0, 20, 40, 60, 80, 100], "title": "Intensity (a.u.)", "titlePadding": 14}},
                    "color": {"field": "s", "type": "nominal", "scale": {"domain": ["bare", "PA", "dimer"], "range": ["#808080", "#858585", "#000000"]}, "legend": null},
                    "strokeDash": {"field": "s", "type": "nominal", "scale": {"domain": ["bare", "PA", "dimer"], "range": [[1, 0], [3, 2], [1, 0]]}, "legend": null},
                    "strokeWidth": {"field": "s", "type": "nominal", "scale": {"domain": ["bare", "PA", "dimer"], "range": [1.5, 1.3, 1.7]}, "legend": null}
                  }
                },
                {
                  "width": 458, "height": 304.5,
                  "title": {"text": "b", "dx": -60, "dy": 26, "offset": 4, "baseline": "alphabetic"},
                  "layer": [
                    {
                      "data": {"name": "maxima"},
                      "mark": {"type": "rule", "color": "#8c8c8c", "strokeWidth": 1, "strokeDash": [1.5, 1.5]},
                      "encoding": {
                        "x": {"field": "wl", "type": "quantitative", "scale": {"domain": [370.0, 624.8], "nice": false, "zero": false},
                              "axis": {"values": [400, 600], "title": "Wavelength (nm)", "labelPadding": 8, "titlePadding": 4}},
                        "y": {"field": "base", "type": "quantitative", "scale": {"domain": [0, 1], "nice": false},
                              "axis": {"values": [0, 1], "format": "d", "title": "Normalized FI", "titlePadding": 0}},
                        "y2": {"field": "top"}
                      }
                    },
                    {
                      "data": {"name": "b"},
                      "mark": {"type": "line", "clip": true},
                      "encoding": {
                        "x": {"field": "wl", "type": "quantitative"},
                        "y": {"field": "v", "type": "quantitative"},
                        "color": {"field": "s", "type": "nominal", "scale": {"domain": ["bare", "PA", "dimer"], "range": ["#808080", "#858585", "#000000"]}, "legend": null},
                        "strokeDash": {"field": "s", "type": "nominal", "scale": {"domain": ["bare", "PA", "dimer"], "range": [[1, 0], [3, 2], [1, 0]]}, "legend": null},
                        "strokeWidth": {"field": "s", "type": "nominal", "scale": {"domain": ["bare", "PA", "dimer"], "range": [1.5, 1.3, 1.7]}, "legend": null}
                      }
                    },
                    {
                      "data": {"name": "maxima"},
                      "mark": {"type": "text", "font": "Liberation Sans", "fontSize": 19, "color": "#000000", "baseline": "middle", "dy": 19},
                      "encoding": {
                        "x": {"field": "wl", "type": "quantitative"},
                        "y": {"field": "base", "type": "quantitative"},
                        "text": {"field": "lab", "type": "nominal"}
                      }
                    }
                  ]
                }
              ]
            }
          ]
        }
      ]
    },
    {
      "width": 1256, "height": 480,
      "data": {"name": "blank"},
      "mark": {"type": "point", "opacity": 0},
      "encoding": {
        "x": {"field": "k", "type": "quantitative", "axis": {"orient": "top", "domainColor": "#e3e3e3", "domainWidth": 2, "ticks": false, "labels": false, "title": null}},
        "y": {"field": "k", "type": "quantitative", "axis": {"orient": "left", "domainColor": "#e3e3e3", "domainWidth": 2, "ticks": false, "labels": false, "title": null}}
      }
    },
    {
      "width": 1256, "height": 84,
      "view": {"fill": "#ebebeb", "stroke": null},
      "data": {"name": "caption"},
      "layer": [
        {
          "transform": [{"filter": "datum.part === 'head'"}],
          "mark": {"type": "text", "align": "left", "baseline": "middle", "x": 18, "font": "Liberation Sans", "fontSize": 18.6, "fontWeight": "bold", "color": "#222222"},
          "encoding": {
            "y": {"field": "line", "type": "quantitative", "scale": {"domain": [-0.119, 3.881], "reverse": true, "nice": false, "zero": false}, "axis": null},
            "text": {"field": "t", "type": "nominal"}
          }
        },
        {
          "transform": [{"filter": "datum.part === 'rest1'"}],
          "mark": {"type": "text", "align": "left", "baseline": "middle", "x": 102, "font": "Liberation Sans", "fontSize": 18.6, "color": "#222222"},
          "encoding": {
            "y": {"field": "line", "type": "quantitative", "axis": null},
            "text": {"field": "t", "type": "nominal"}
          }
        },
        {
          "transform": [{"filter": "datum.part === 'body'"}],
          "mark": {"type": "text", "align": "left", "baseline": "middle", "x": 18, "font": "Liberation Sans", "fontSize": 18.6, "color": "#222222"},
          "encoding": {
            "y": {"field": "line", "type": "quantitative", "axis": null},
            "text": {"field": "t", "type": "nominal"}
          }
        }
      ]
    }
  ]
}
